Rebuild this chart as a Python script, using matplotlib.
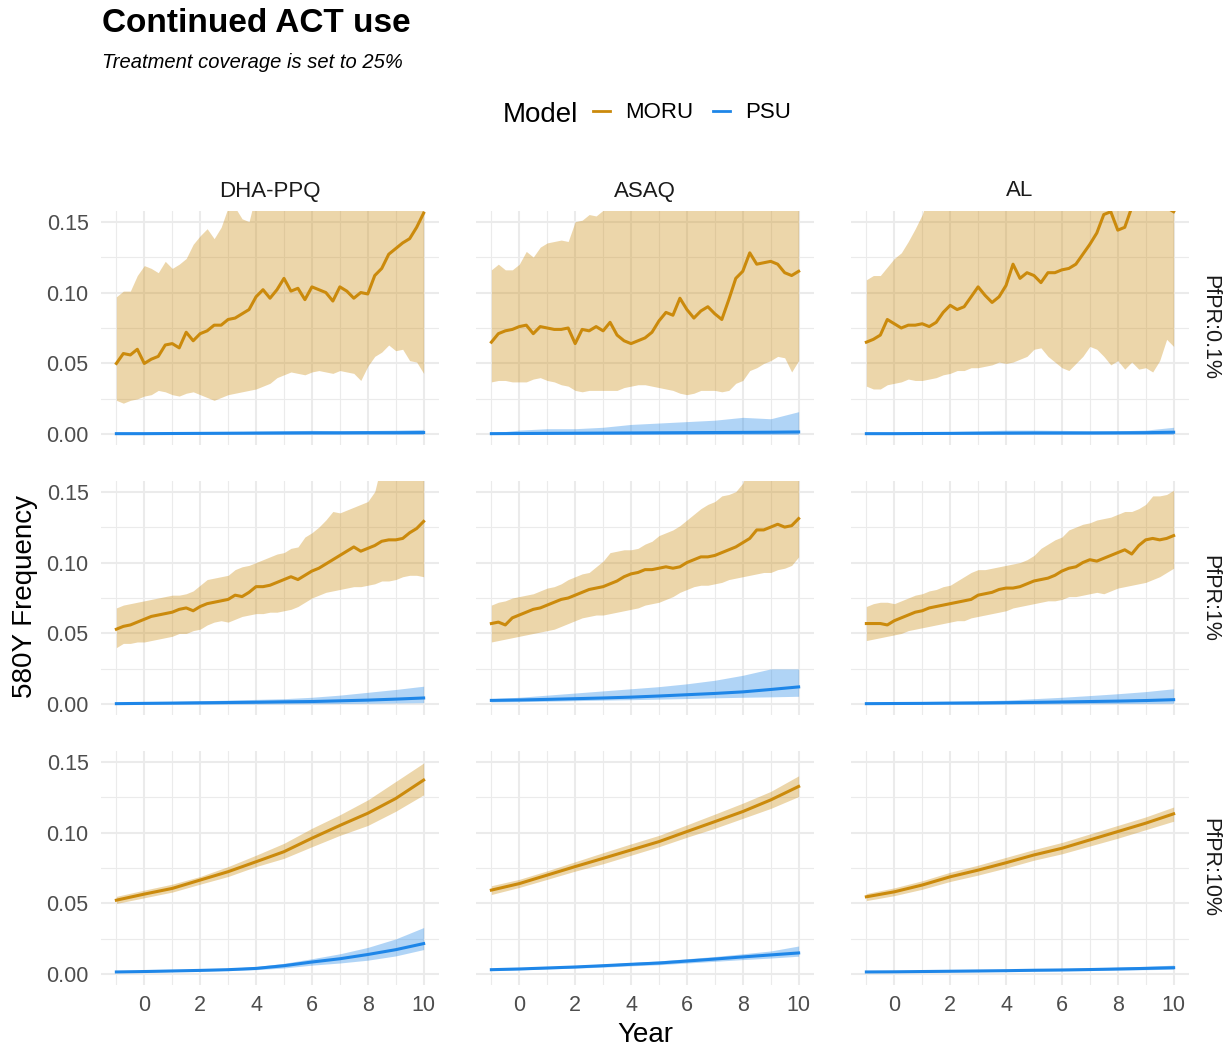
import numpy as np
import matplotlib
matplotlib.use("Agg")
import matplotlib.pyplot as plt
from matplotlib.lines import Line2D

plt.rcParams['font.family'] = ['Liberation Sans', 'DejaVu Sans']

# ---------------- labels ----------------
drugs = ["DHA-PPQ", "ASAQ", "AL"]
pfpr_labels = ["PfPR:0.1%", "PfPR:1%", "PfPR:10%"]
models = ["MORU", "PSU"]
year_ticks = [0, 2, 4, 6, 8, 10]
freq_ticks = [0.00, 0.05, 0.10, 0.15]
freq_labels = ["0.00", "0.05", "0.10", "0.15"]

# ---------------- data (years -1 .. 10, evenly spaced) ----------------
# PfPR 0.1%
dha01_moru_mid = [.050,.057,.056,.060,.050,.053,.055,.063,.064,.061,.072,.066,.071,.073,.077,.077,.081,.082,.085,.088,
                  .097,.102,.096,.102,.110,.101,.103,.095,.104,.102,.100,.094,.104,.101,.096,.100,.099,.112,.117,.127,
                  .131,.135,.138,.146,.156]
dha01_moru_hi = [.097,.101,.101,.112,.119,.117,.114,.122,.117,.120,.124,.134,.140,.145,.138,.146,.160,.160,.152,.150,
                 .170,.180,.180,.180,.180,.180,.180,.180,.180,.180,.180,.180,.180,.180,.180,.180,.180,.180,.180,.180,
                 .180,.180,.180,.180,.180]
dha01_moru_lo = [.024,.022,.024,.025,.027,.028,.031,.030,.028,.027,.029,.030,.028,.026,.024,.026,.028,.029,.030,.031,
                 .032,.034,.036,.040,.042,.044,.043,.042,.044,.045,.044,.043,.045,.044,.043,.038,.048,.055,.058,.063,
                 .059,.060,.052,.051,.043]
dha01_psu_mid = [.0005,.0005,.0006,.0007,.0008,.0009,.0010,.0011,.0011,.0012,.0012,.0013]
dha01_psu_hi = [.0010,.0012,.0014,.0016,.0018,.0022,.0025,.0028,.0025,.0027,.0030,.0035]
dha01_psu_lo = [.0000,.0000,.0000,.0000,.0000,.0000,.0000,.0000,.0000,.0000,.0000,.0000]

asaq01_moru_mid = [.065,.071,.073,.074,.076,.077,.071,.076,.075,.074,.074,.075,.064,.074,.073,.076,.073,.079,.070,.066,
                   .064,.066,.068,.072,.080,.086,.084,.096,.088,.082,.087,.090,.085,.081,.095,.110,.115,.128,.120,.121,
                   .122,.120,.114,.112,.115]
asaq01_moru_hi = [.116,.120,.116,.116,.120,.129,.125,.132,.135,.136,.137,.136,.150,.151,.155,.154,.158,.170,.170,.170,
                  .170,.170,.170,.170,.170,.170,.170,.170,.170,.170,.170,.170,.170,.170,.170,.170,.170,.170,.170,.170,
                  .170,.170,.170,.170,.170]
asaq01_moru_lo = [.037,.038,.038,.037,.037,.037,.039,.040,.038,.037,.035,.034,.031,.030,.031,.031,.031,.031,.031,.033,
                  .034,.035,.035,.034,.033,.032,.031,.029,.028,.029,.031,.031,.031,.030,.031,.036,.038,.045,.047,.050,
                  .052,.055,.054,.044,.052]
asaq01_psu_mid = [.0005,.0006,.0007,.0008,.0009,.0010,.0011,.0012,.0013,.0014,.0015,.0017]
asaq01_psu_hi = [.0010,.0030,.0040,.0040,.0050,.0070,.0080,.0090,.0100,.0120,.0110,.0160]
asaq01_psu_lo = [.0000,.0000,.0000,.0000,.0000,.0000,.0000,.0000,.0000,.0000,.0000,.0000]

al01_moru_mid = [.065,.067,.070,.081,.078,.075,.077,.077,.078,.076,.079,.086,.091,.088,.090,.097,.104,.098,.093,.097,
                 .105,.120,.110,.114,.112,.107,.114,.114,.116,.117,.120,.127,.134,.142,.155,.157,.144,.146,.160,.162,
                 .163,.163,.162,.160,.157]
al01_moru_hi = [.109,.112,.112,.118,.124,.128,.136,.145,.155,.170,.170,.170,.170,.170,.170,.170,.170,.170,.170,.170,
                .170,.170,.170,.170,.170,.170,.170,.170,.170,.170,.170,.170,.170,.170,.170,.170,.170,.170,.170,.170,
                .170,.170,.170,.170,.170]
al01_moru_lo = [.034,.032,.032,.035,.036,.037,.039,.038,.038,.039,.040,.042,.043,.045,.045,.047,.047,.048,.049,.051,
                .050,.051,.053,.055,.060,.061,.055,.051,.047,.045,.050,.055,.062,.060,.055,.049,.052,.046,.051,.046,
                .047,.044,.052,.067,.062]
al01_psu_mid = [.0005,.0005,.0006,.0007,.0008,.0009,.0010,.0010,.0010,.0011,.0012,.0015]
al01_psu_hi = [.0010,.0012,.0015,.0020,.0025,.0030,.0030,.0028,.0025,.0025,.0030,.0050]
al01_psu_lo = [.0000,.0000,.0000,.0000,.0000,.0000,.0000,.0000,.0000,.0000,.0000,.0000]

# PfPR 1%
dha1_moru_mid = [.053,.055,.056,.058,.060,.062,.063,.064,.065,.067,.068,.066,.069,.071,.072,.073,.074,.077,.076,.079,
                 .083,.083,.084,.086,.088,.090,.088,.091,.094,.096,.099,.102,.105,.108,.111,.108,.110,.112,.115,.116,
                 .116,.117,.121,.124,.129]
dha1_moru_hi = [.068,.070,.071,.072,.073,.074,.075,.076,.077,.077,.078,.080,.084,.088,.089,.090,.091,.095,.097,.098,
                .100,.102,.104,.106,.107,.110,.111,.118,.121,.125,.130,.136,.135,.137,.139,.141,.143,.150,.170,.170,
                .170,.170,.170,.170,.170]
dha1_moru_lo = [.040,.043,.043,.044,.044,.045,.046,.047,.048,.050,.050,.052,.053,.056,.058,.059,.058,.060,.062,.063,
                .064,.064,.065,.065,.066,.067,.069,.072,.075,.077,.079,.080,.081,.082,.083,.083,.084,.085,.087,.087,
                .088,.090,.091,.091,.090]
dha1_psu_mid = [.0005,.0007,.0009,.0011,.0013,.0015,.0018,.0020,.0025,.0030,.0037,.0045]
dha1_psu_hi = [.0010,.0015,.0020,.0025,.0030,.0035,.0040,.0050,.0065,.0085,.0105,.0128]
dha1_psu_lo = [.0000,.0000,.0000,.0001,.0002,.0003,.0004,.0005,.0006,.0008,.0010,.0012]

asaq1_moru_mid = [.057,.058,.056,.061,.063,.065,.067,.068,.070,.072,.074,.075,.077,.079,.081,.082,.083,.085,.087,.090,
                  .092,.093,.095,.095,.096,.097,.096,.097,.100,.102,.104,.104,.105,.107,.109,.111,.114,.117,.123,.123,
                  .125,.127,.125,.126,.131]
asaq1_moru_hi = [.070,.072,.073,.075,.076,.077,.078,.080,.082,.083,.085,.088,.090,.092,.093,.097,.101,.107,.108,.109,
                 .109,.110,.113,.115,.119,.121,.123,.126,.130,.134,.138,.141,.143,.147,.148,.150,.156,.170,.170,.170,
                 .170,.170,.170,.170,.170]
asaq1_moru_lo = [.044,.045,.046,.047,.048,.049,.050,.051,.052,.053,.055,.057,.059,.061,.062,.063,.063,.064,.065,.066,
                 .067,.068,.070,.071,.072,.074,.076,.079,.081,.083,.084,.084,.085,.086,.088,.089,.090,.091,.092,.093,
                 .093,.095,.096,.098,.104]
asaq1_psu_mid = [.0028,.0031,.0035,.0040,.0045,.0051,.0059,.0068,.0077,.0088,.0105,.0123]
asaq1_psu_hi = [.0040,.0050,.0065,.0080,.0095,.0110,.0125,.0145,.0170,.0205,.0250,.0250]
asaq1_psu_lo = [.0017,.0019,.0022,.0026,.0030,.0033,.0037,.0041,.0046,.0050,.0053,.0057]

al1_moru_mid = [.057,.057,.057,.056,.059,.061,.063,.065,.066,.068,.069,.070,.071,.072,.073,.074,.077,.078,.079,.081,
                .082,.082,.083,.085,.087,.088,.089,.091,.094,.096,.097,.100,.102,.101,.103,.105,.107,.109,.106,.112,
                .116,.117,.116,.117,.119]
al1_moru_hi = [.069,.071,.072,.072,.071,.073,.075,.077,.078,.080,.081,.083,.084,.087,.090,.093,.095,.095,.096,.097,
               .098,.099,.100,.102,.105,.110,.113,.116,.118,.123,.125,.127,.128,.130,.131,.132,.134,.136,.136,.138,
               .141,.147,.147,.148,.151]
al1_moru_lo = [.045,.046,.047,.048,.049,.050,.052,.053,.054,.055,.056,.057,.058,.059,.059,.061,.062,.063,.064,.065,
               .066,.068,.069,.070,.071,.072,.073,.073,.074,.076,.076,.077,.078,.079,.078,.080,.082,.083,.084,.085,
               .086,.088,.090,.093,.096]
al1_psu_mid = [.0005,.0006,.0007,.0009,.0010,.0012,.0014,.0017,.0020,.0023,.0027,.0033]
al1_psu_hi = [.0010,.0013,.0016,.0020,.0025,.0030,.0040,.0050,.0062,.0075,.0090,.0110]
al1_psu_lo = [.0000,.0000,.0000,.0000,.0001,.0002,.0003,.0004,.0005,.0006,.0007,.0008]

# PfPR 10%
dha10_moru_mid = [.0523,.0566,.0606,.0665,.0724,.0794,.0865,.0960,.1050,.1136,.1240,.1370]
dha10_moru_hi = [.0550,.0594,.0636,.0690,.0760,.0840,.0924,.1030,.1125,.1230,.1360,.1490]
dha10_moru_lo = [.0500,.0540,.0580,.0636,.0690,.0760,.0818,.0900,.0980,.1050,.1150,.1266]
dha10_psu_mid = [.0017,.0020,.0024,.0028,.0033,.0042,.0061,.0087,.0110,.0140,.0174,.0217]
dha10_psu_hi = [.0020,.0023,.0028,.0034,.0042,.0055,.0078,.0110,.0145,.0190,.0250,.0330]
dha10_psu_lo = [.0013,.0016,.0020,.0024,.0028,.0033,.0045,.0065,.0080,.0100,.0130,.0175]

asaq10_moru_mid = [.0594,.0640,.0700,.0760,.0818,.0877,.0936,.1007,.1077,.1148,.1230,.1325]
asaq10_moru_hi = [.0625,.0670,.0730,.0794,.0858,.0920,.0980,.1054,.1130,.1207,.1290,.1400]
asaq10_moru_lo = [.0563,.0613,.0670,.0728,.0780,.0840,.0900,.0967,.1030,.1100,.1170,.1254]
asaq10_psu_mid = [.0033,.0038,.0045,.0052,.0061,.0071,.0080,.0094,.0108,.0123,.0137,.0151]
asaq10_psu_hi = [.0040,.0045,.0053,.0062,.0072,.0083,.0095,.0110,.0126,.0145,.0165,.0200]
asaq10_psu_lo = [.0027,.0032,.0038,.0044,.0051,.0060,.0068,.0080,.0092,.0104,.0115,.0128]

al10_moru_mid = [.0547,.0582,.0630,.0688,.0735,.0787,.0842,.0889,.0948,.1007,.1066,.1132]
al10_moru_hi = [.0570,.0610,.0660,.0720,.0770,.0825,.0880,.0930,.0990,.1050,.1110,.1180]
al10_moru_lo = [.0520,.0555,.0600,.0655,.0700,.0750,.0805,.0850,.0905,.0960,.1020,.1080]
al10_psu_mid = [.0017,.0018,.0020,.0022,.0024,.0026,.0029,.0031,.0034,.0038,.0042,.0047]
al10_psu_hi = [.0020,.0022,.0025,.0027,.0030,.0033,.0037,.0040,.0045,.0050,.0057,.0065]
al10_psu_lo = [.0014,.0015,.0016,.0018,.0019,.0021,.0023,.0025,.0027,.0030,.0033,.0036]

YEAR_START, YEAR_END = -1, 10

panels = {
    (0, 0): {"MORU": (dha01_moru_mid, dha01_moru_lo, dha01_moru_hi), "PSU": (dha01_psu_mid, dha01_psu_lo, dha01_psu_hi)},
    (0, 1): {"MORU": (asaq01_moru_mid, asaq01_moru_lo, asaq01_moru_hi), "PSU": (asaq01_psu_mid, asaq01_psu_lo, asaq01_psu_hi)},
    (0, 2): {"MORU": (al01_moru_mid, al01_moru_lo, al01_moru_hi), "PSU": (al01_psu_mid, al01_psu_lo, al01_psu_hi)},
    (1, 0): {"MORU": (dha1_moru_mid, dha1_moru_lo, dha1_moru_hi), "PSU": (dha1_psu_mid, dha1_psu_lo, dha1_psu_hi)},
    (1, 1): {"MORU": (asaq1_moru_mid, asaq1_moru_lo, asaq1_moru_hi), "PSU": (asaq1_psu_mid, asaq1_psu_lo, asaq1_psu_hi)},
    (1, 2): {"MORU": (al1_moru_mid, al1_moru_lo, al1_moru_hi), "PSU": (al1_psu_mid, al1_psu_lo, al1_psu_hi)},
    (2, 0): {"MORU": (dha10_moru_mid, dha10_moru_lo, dha10_moru_hi), "PSU": (dha10_psu_mid, dha10_psu_lo, dha10_psu_hi)},
    (2, 1): {"MORU": (asaq10_moru_mid, asaq10_moru_lo, asaq10_moru_hi), "PSU": (asaq10_psu_mid, asaq10_psu_lo, asaq10_psu_hi)},
    (2, 2): {"MORU": (al10_moru_mid, al10_moru_lo, al10_moru_hi), "PSU": (al10_psu_mid, al10_psu_lo, al10_psu_hi)},
}

colors = {"MORU": "#CB8A0C", "PSU": "#1E86E8"}

# ---------------- layout ----------------
FW, FH = 1228, 1051
fig = plt.figure(figsize=(FW / 100, FH / 100), dpi=100)
col_left = [101, 476, 851]
row_top = [211, 481, 751]
PW, PH = 338, 234

tick_color = "#4D4D4D"
grid_color = "#EBEBEB"

for r in range(3):
    for c in range(3):
        ax = fig.add_axes([col_left[c] / FW, 1 - (row_top[r] + PH) / FH, PW / FW, PH / FH])
        for side in ax.spines.values():
            side.set_visible(False)
        ax.set_xlim(-1.55, 10.55)
        ax.set_ylim(-0.0075, 0.1575)
        ax.set_xticks(year_ticks)
        ax.set_xticks([-1, 1, 3, 5, 7, 9], minor=True)
        ax.set_yticks(freq_ticks)
        ax.set_yticks([0.025, 0.075, 0.125], minor=True)
        ax.grid(which="major", color=grid_color, lw=1.5)
        ax.grid(which="minor", color=grid_color, lw=0.8)
        ax.set_axisbelow(True)
        ax.tick_params(which="both", length=0)
        if c == 0:
            ax.set_yticklabels(freq_labels, fontsize=15.5, color=tick_color)
            ax.tick_params(axis="y", pad=9)
        else:
            ax.set_yticklabels([])
        if r == 2:
            ax.set_xticklabels([str(t) for t in year_ticks], fontsize=15.5, color=tick_color)
            ax.tick_params(axis="x", pad=7)
        else:
            ax.set_xticklabels([])
        for m in models:
            mid, lo, hi = panels[(r, c)][m]
            x = np.linspace(YEAR_START, YEAR_END, len(mid))
            ax.fill_between(x, lo, hi, color=colors[m], alpha=0.35, lw=0)
            ax.plot(x, mid, color=colors[m], lw=2.2, solid_joinstyle="round")

# strips
for c in range(3):
    fig.text((col_left[c] + PW / 2) / FW, 1 - 191 / FH, drugs[c], fontsize=16,
             ha="center", va="center", color="#1A1A1A")
for r in range(3):
    fig.text(1210 / FW, 1 - (row_top[r] + PH / 2) / FH, pfpr_labels[r], fontsize=15.5,
             ha="center", va="center", rotation=-90, color="#1A1A1A")

# axis titles
fig.text(25 / FW, 1 - 597 / FH, "580Y Frequency", rotation=90, fontsize=20, ha="center", va="center")
fig.text(645 / FW, 1 - 1035 / FH, "Year", fontsize=20, ha="center", va="center")

# title / subtitle
fig.text(102 / FW, 1 - 23 / FH, "Continued ACT use", fontsize=24, fontweight="bold", ha="left", va="center")
fig.text(102 / FW, 1 - 63 / FH, "Treatment coverage is set to 25%", fontsize=14.5, style="italic",
         ha="left", va="center")

# legend
fig.text(503 / FW, 1 - 115 / FH, "Model", fontsize=20, ha="left", va="center")
handles = [Line2D([], [], color=colors[m], lw=2) for m in models]
fig.legend(handles, models, loc="center left", bbox_to_anchor=(593 / FW, 1 - 113 / FH), ncol=2,
           frameon=False, fontsize=16, handlelength=0.75, handletextpad=0.7, columnspacing=0.9,
           borderpad=0, borderaxespad=0)

fig.savefig("out.png", dpi=100)
